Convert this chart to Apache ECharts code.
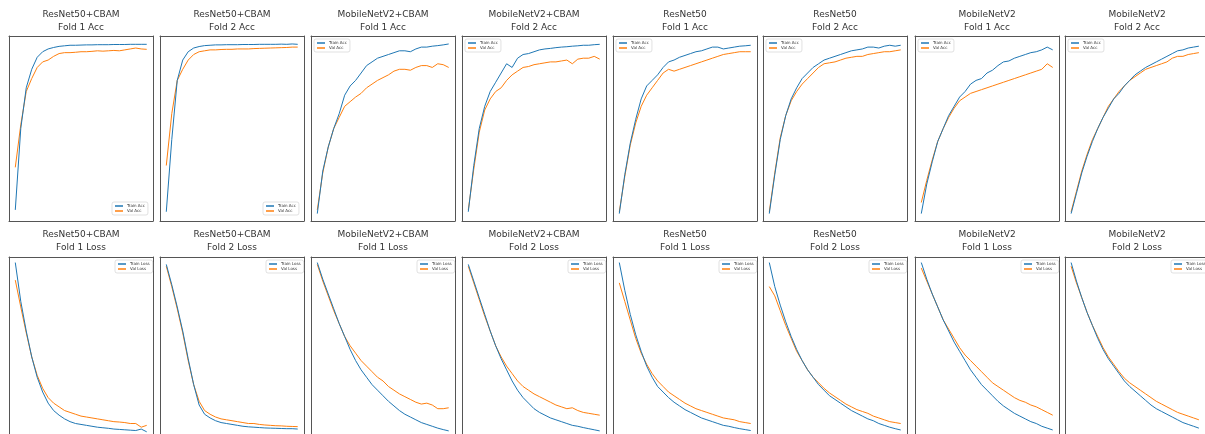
<!DOCTYPE html>
<html>
<head>
<meta charset="utf-8">
<script src="https://cdn.jsdelivr.net/npm/echarts@6/dist/echarts.min.js"></script>
<style>html,body{margin:0;padding:0;background:#fff;}#c{width:1205px;height:434px;}</style>
</head>
<body>
<div id="c"></div>
<script>
// ---- data (normalised metric values) ----
const epochs = [1,2,3,4,5,6,7,8,9,10,11,12,13,14,15,16,17,18,19,20,21,22,23,24,25];
const modelNames = ['ResNet50+CBAM','ResNet50+CBAM','MobileNetV2+CBAM','MobileNetV2+CBAM','ResNet50','ResNet50','MobileNetV2','MobileNetV2'];
const foldNames = ['Fold 1','Fold 2','Fold 1','Fold 2','Fold 1','Fold 2','Fold 1','Fold 2'];
const accLegend = ['Train Acc','Val Acc'];
const lossLegend = ['Train Loss','Val Loss'];

// Accuracy
const rc1AccTrain = [0.06,0.5,0.72,0.82,0.885,0.915,0.93,0.938,0.944,0.947,0.95,0.95,0.951,0.952,0.952,0.953,0.953,0.953,0.954,0.954,0.954,0.955,0.955,0.955,0.955];
const rc1AccVal   = [0.29,0.52,0.7,0.77,0.83,0.86,0.87,0.89,0.905,0.91,0.91,0.912,0.915,0.915,0.917,0.92,0.918,0.92,0.922,0.92,0.925,0.93,0.935,0.93,0.928];
const rc2AccTrain = [0.05,0.44,0.76,0.87,0.915,0.935,0.943,0.948,0.95,0.952,0.952,0.953,0.953,0.953,0.954,0.954,0.954,0.955,0.955,0.955,0.955,0.956,0.955,0.957,0.955];
const rc2AccVal   = [0.3,0.58,0.76,0.82,0.87,0.9,0.915,0.92,0.925,0.925,0.927,0.928,0.928,0.93,0.93,0.93,0.932,0.933,0.934,0.935,0.936,0.937,0.938,0.94,0.94];
const mc1AccTrain = [0.04,0.27,0.4,0.5,0.58,0.68,0.73,0.76,0.8,0.84,0.86,0.88,0.89,0.9,0.91,0.92,0.92,0.915,0.93,0.94,0.94,0.945,0.948,0.952,0.957];
const mc1AccVal   = [0.06,0.26,0.4,0.5,0.56,0.62,0.645,0.67,0.69,0.72,0.74,0.76,0.775,0.79,0.81,0.82,0.82,0.815,0.83,0.84,0.84,0.83,0.85,0.845,0.83];
const mc2AccTrain = [0.05,0.3,0.5,0.62,0.7,0.75,0.8,0.85,0.83,0.88,0.9,0.905,0.915,0.925,0.93,0.933,0.937,0.94,0.942,0.945,0.947,0.95,0.95,0.953,0.955];
const mc2AccVal   = [0.06,0.28,0.48,0.6,0.66,0.7,0.72,0.76,0.79,0.81,0.83,0.835,0.845,0.85,0.855,0.86,0.86,0.865,0.87,0.85,0.875,0.88,0.88,0.89,0.875];
const r1AccTrain  = [0.04,0.25,0.42,0.55,0.66,0.73,0.76,0.79,0.83,0.86,0.87,0.885,0.895,0.905,0.915,0.92,0.93,0.94,0.94,0.93,0.935,0.94,0.945,0.947,0.95];
const r1AccVal    = [0.05,0.24,0.41,0.53,0.62,0.68,0.72,0.76,0.8,0.82,0.81,0.82,0.83,0.84,0.85,0.86,0.87,0.88,0.89,0.9,0.905,0.91,0.915,0.915,0.915];
const r2AccTrain  = [0.04,0.25,0.44,0.57,0.66,0.72,0.77,0.8,0.83,0.85,0.87,0.88,0.89,0.9,0.91,0.92,0.925,0.93,0.94,0.94,0.935,0.945,0.95,0.945,0.95];
const r2AccVal    = [0.05,0.26,0.45,0.57,0.65,0.7,0.74,0.77,0.8,0.83,0.85,0.855,0.86,0.87,0.88,0.885,0.89,0.89,0.9,0.905,0.91,0.915,0.915,0.92,0.925];
const m1AccTrain  = [0.04,0.2,0.32,0.43,0.5,0.57,0.62,0.67,0.7,0.74,0.76,0.77,0.8,0.815,0.84,0.86,0.865,0.88,0.89,0.9,0.91,0.915,0.925,0.94,0.925];
const m1AccVal    = [0.1,0.22,0.33,0.43,0.5,0.56,0.61,0.65,0.67,0.69,0.7,0.71,0.72,0.73,0.74,0.75,0.76,0.77,0.78,0.79,0.8,0.81,0.82,0.85,0.83];
const m2AccTrain  = [0.04,0.15,0.26,0.35,0.43,0.5,0.56,0.61,0.66,0.69,0.73,0.76,0.79,0.81,0.83,0.845,0.86,0.875,0.89,0.905,0.92,0.925,0.935,0.94,0.945];
const m2AccVal    = [0.05,0.16,0.27,0.36,0.44,0.5,0.56,0.62,0.66,0.7,0.73,0.76,0.78,0.8,0.82,0.83,0.84,0.85,0.86,0.88,0.89,0.89,0.9,0.905,0.91];

// Loss
const rc1LossTrain = [0.97,0.76,0.6,0.46,0.35,0.27,0.21,0.17,0.145,0.125,0.11,0.1,0.095,0.09,0.085,0.08,0.077,0.074,0.07,0.068,0.066,0.064,0.062,0.07,0.055];
const rc1LossVal   = [0.875,0.73,0.59,0.46,0.36,0.29,0.24,0.21,0.19,0.17,0.16,0.15,0.14,0.135,0.13,0.125,0.12,0.115,0.11,0.108,0.105,0.1,0.1,0.08,0.09];
const rc2LossTrain = [0.96,0.85,0.73,0.6,0.45,0.31,0.2,0.15,0.13,0.115,0.105,0.1,0.095,0.09,0.085,0.082,0.08,0.078,0.076,0.075,0.074,0.073,0.072,0.072,0.07];
const rc2LossVal   = [0.95,0.84,0.72,0.59,0.44,0.31,0.22,0.17,0.15,0.135,0.125,0.12,0.115,0.11,0.105,0.1,0.1,0.095,0.092,0.09,0.088,0.087,0.085,0.084,0.083];
const mc1LossTrain = [0.97,0.88,0.8,0.72,0.64,0.57,0.5,0.44,0.39,0.35,0.31,0.28,0.25,0.22,0.195,0.17,0.15,0.135,0.12,0.105,0.095,0.085,0.075,0.067,0.06];
const mc1LossVal   = [0.96,0.87,0.79,0.71,0.64,0.57,0.52,0.48,0.44,0.41,0.38,0.35,0.33,0.3,0.28,0.26,0.245,0.23,0.215,0.205,0.21,0.2,0.18,0.18,0.185];
const mc2LossTrain = [0.96,0.87,0.78,0.69,0.6,0.52,0.45,0.39,0.33,0.28,0.24,0.21,0.18,0.16,0.145,0.13,0.12,0.11,0.1,0.09,0.085,0.078,0.072,0.066,0.06];
const mc2LossVal   = [0.95,0.86,0.77,0.68,0.6,0.52,0.46,0.41,0.37,0.33,0.3,0.28,0.26,0.245,0.23,0.215,0.2,0.19,0.18,0.185,0.17,0.16,0.155,0.15,0.145];
const r1LossTrain  = [0.97,0.82,0.69,0.58,0.49,0.41,0.35,0.3,0.27,0.24,0.215,0.195,0.175,0.16,0.145,0.13,0.12,0.11,0.1,0.09,0.085,0.078,0.072,0.067,0.062];
const r1LossVal    = [0.86,0.76,0.66,0.56,0.48,0.42,0.37,0.33,0.3,0.27,0.25,0.23,0.21,0.195,0.18,0.17,0.16,0.15,0.14,0.13,0.125,0.12,0.11,0.105,0.1];
const r2LossTrain  = [0.97,0.84,0.74,0.65,0.57,0.5,0.44,0.39,0.35,0.31,0.28,0.25,0.23,0.21,0.19,0.17,0.155,0.14,0.125,0.115,0.1,0.09,0.08,0.072,0.065];
const r2LossVal    = [0.84,0.79,0.71,0.63,0.56,0.49,0.44,0.39,0.35,0.32,0.29,0.265,0.245,0.225,0.205,0.19,0.175,0.165,0.155,0.14,0.13,0.12,0.11,0.105,0.1];
const m1LossTrain  = [0.97,0.88,0.8,0.73,0.66,0.6,0.54,0.49,0.44,0.39,0.35,0.31,0.28,0.25,0.22,0.195,0.175,0.155,0.14,0.125,0.11,0.1,0.085,0.075,0.065];
const m1LossVal    = [0.94,0.87,0.8,0.73,0.66,0.61,0.56,0.51,0.47,0.44,0.41,0.38,0.35,0.32,0.3,0.28,0.26,0.24,0.225,0.215,0.2,0.19,0.175,0.16,0.145];
const m2LossTrain  = [0.97,0.87,0.78,0.7,0.63,0.56,0.5,0.45,0.41,0.37,0.33,0.3,0.275,0.25,0.225,0.2,0.18,0.165,0.15,0.135,0.12,0.105,0.095,0.085,0.075];
const m2LossVal    = [0.95,0.86,0.78,0.7,0.63,0.57,0.51,0.46,0.42,0.38,0.345,0.32,0.3,0.28,0.26,0.24,0.22,0.205,0.19,0.175,0.16,0.15,0.14,0.13,0.12];

const accTrain = [rc1AccTrain,rc2AccTrain,mc1AccTrain,mc2AccTrain,r1AccTrain,r2AccTrain,m1AccTrain,m2AccTrain];
const accVal   = [rc1AccVal,rc2AccVal,mc1AccVal,mc2AccVal,r1AccVal,r2AccVal,m1AccVal,m2AccVal];
const lossTrain = [rc1LossTrain,rc2LossTrain,mc1LossTrain,mc2LossTrain,r1LossTrain,r2LossTrain,m1LossTrain,m2LossTrain];
const lossVal   = [rc1LossVal,rc2LossVal,mc1LossVal,mc2LossVal,r1LossVal,r2LossVal,m1LossVal,m2LossVal];

// ---- layout ----
const panelLeft = [9,160,311,462,613,763,915,1065];
const panelW = 144;
// top row: full panel; bottom row: panel is cut off by the picture edge (8px of a 185px panel hidden)
const rowTop = [36, 257];
const rowH = [185, 177];
const rowYMin = [0, 8/185];
const titleTop = [8, 228];
const BLUE = '#1f77b4', ORANGE = '#ff7f0e';
const FONT = 'DejaVu Sans';
const FRAME = {show: true, onZero: false, lineStyle: {color: '#555', width: 1}};
const NOFRAME = {show: false, onZero: false};

const grid = [], xAxis = [], yAxis = [], series = [], title = [], legend = [];
const pair = arr => arr.map((v,i) => [epochs[i], v]);
const hidden = {axisTick:{show:false}, axisLabel:{show:false}, splitLine:{show:false}};

for (let r = 0; r < 2; r++) {
  for (let p = 0; p < 8; p++) {
    const gi = r*8 + p;
    grid.push({left: panelLeft[p], top: rowTop[r], width: panelW, height: rowH[r], show: false, containLabel: false});
    xAxis.push(Object.assign({type:'value', gridIndex: gi, position:'bottom',
      min: epochs[0]-1.15, max: epochs[epochs.length-1]+1.15, axisLine: r === 0 ? FRAME : NOFRAME}, hidden));
    yAxis.push(Object.assign({type:'value', gridIndex: gi, position:'left', min: rowYMin[r], max: 1, axisLine: FRAME}, hidden));
  }
}
// extra axes for top / right edges of each frame
for (let gi = 0; gi < 16; gi++) {
  xAxis.push(Object.assign({type:'value', gridIndex: gi, position:'top', min: 0, max: 1, axisLine: FRAME}, hidden));
  yAxis.push(Object.assign({type:'value', gridIndex: gi, position:'right', min: 0, max: 1, axisLine: FRAME}, hidden));
}

for (let r = 0; r < 2; r++) {
  for (let p = 0; p < 8; p++) {
    const gi = r*8 + p;
    const names = r === 0 ? accLegend : lossLegend;
    const tr = r === 0 ? accTrain[p] : lossTrain[p];
    const va = r === 0 ? accVal[p] : lossVal[p];
    series.push({type:'line', name: names[0], xAxisIndex: gi, yAxisIndex: gi, data: pair(tr),
      symbol:'none', lineStyle:{color: BLUE, width: 1}, itemStyle:{color: BLUE}, animation:false, z: 3});
    series.push({type:'line', name: names[1], xAxisIndex: gi, yAxisIndex: gi, data: pair(va),
      symbol:'none', lineStyle:{color: ORANGE, width: 1}, itemStyle:{color: ORANGE}, animation:false, z: 2});
    title.push({text: modelNames[p] + '\n' + foldNames[p] + (r === 0 ? ' Acc' : ' Loss'),
      left: panelLeft[p] + panelW/2, top: titleTop[r], textAlign: 'center', padding: 0,
      textStyle: {fontSize: 9, fontWeight: 'normal', color: '#333', lineHeight: 13, fontFamily: FONT}});
    let lpos;
    if (r === 0) {
      lpos = (p < 2) ? {left: panelLeft[p] + panelW - 41, top: rowTop[0] + 185 - 19}
                     : {left: panelLeft[p] + 3, top: rowTop[0] + 3};
    } else {
      lpos = {left: panelLeft[p] + panelW - 38, top: rowTop[1] + 3};
    }
    legend.push(Object.assign({
      data: names, orient: 'vertical', itemGap: 1, itemWidth: 8, itemHeight: 1.5, icon: 'rect',
      padding: [2, 3], borderColor: '#ccc', borderWidth: 0.6, borderRadius: 2, backgroundColor: 'rgba(255,255,255,0.8)',
      selectedMode: false,
      textStyle: {fontSize: 4, color: '#333', fontFamily: FONT, padding: [0,0,0,-1]}
    }, lpos));
  }
}

const chart = echarts.init(document.getElementById('c'), null, {renderer: 'canvas'});
chart.setOption({animation: false, backgroundColor: '#fff', title, legend, grid, xAxis, yAxis, series});
</script>
</body>
</html>
